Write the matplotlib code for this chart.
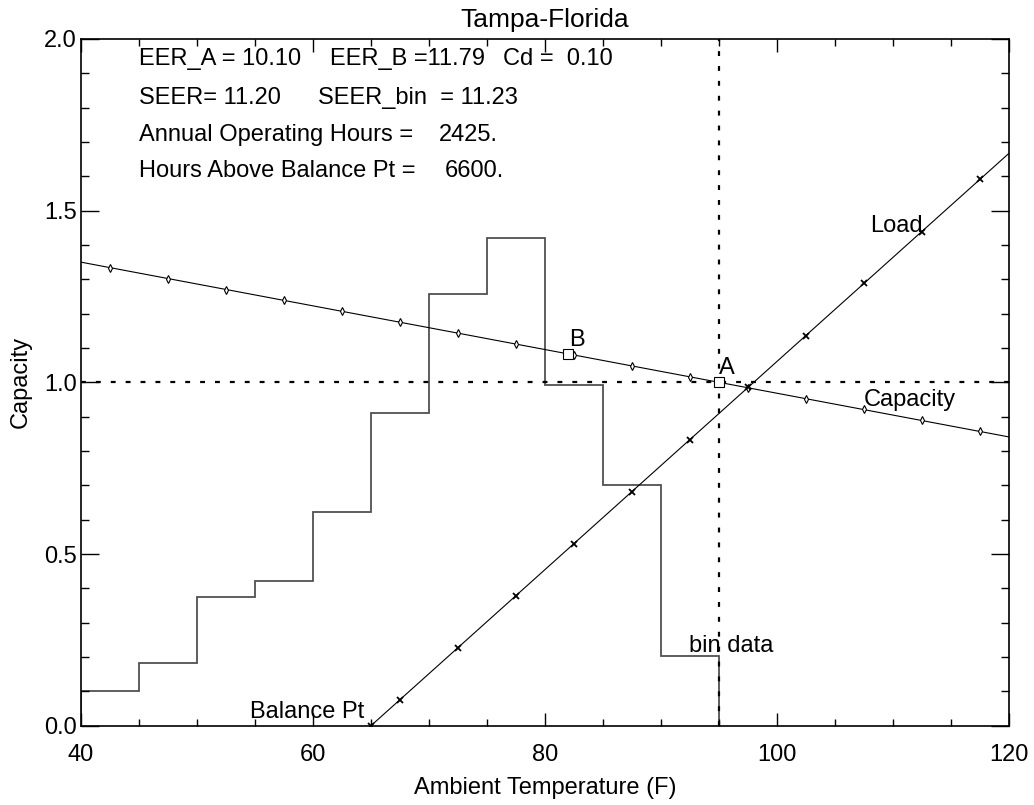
import matplotlib
matplotlib.use("Agg")
import matplotlib.pyplot as plt
from matplotlib.ticker import MultipleLocator

plt.rcParams['font.family'] = ['Liberation Sans', 'DejaVu Sans']

# ---- data ----
bin_edges = [40, 45, 50, 55, 60, 65, 70, 75, 80, 85, 90, 95]
bin_values = [0.10, 0.183, 0.375, 0.420, 0.621, 0.911, 1.256, 1.419, 0.991, 0.702, 0.203]

bin_centers = [42.5, 47.5, 52.5, 57.5, 62.5, 67.5, 72.5, 77.5,
               82.5, 87.5, 92.5, 97.5, 102.5, 107.5, 112.5, 117.5]
capacity_pts = [1.334, 1.302, 1.270, 1.239, 1.207, 1.175, 1.143, 1.111,
                1.080, 1.048, 1.016, 0.984, 0.952, 0.921, 0.889, 0.857]
capacity_line_t = [40, 120]
capacity_line_v = [1.350, 0.841]

load_t = [65, 67.5, 72.5, 77.5, 82.5, 87.5, 92.5, 97.5, 102.5, 107.5, 112.5, 117.5]
load_v = [0.0, 0.076, 0.227, 0.379, 0.530, 0.682, 0.833, 0.985, 1.136, 1.288, 1.439, 1.591]
load_line_t = [65, 120]
load_line_v = [0.0, 1.667]

point_A = (95, 1.0)
point_B = (82, 1.083)

info_lines = [
    [(45.0, "EER_A = 10.10"), (61.47, "EER_B =11.79"), (76.4, "Cd =  0.10")],
    [(45.0, "SEER= 11.20"), (60.43, "SEER_bin  = 11.23")],
    [(45.0, "Annual Operating Hours ="), (70.86, "2425.")],
    [(45.0, "Hours Above Balance Pt ="), (71.38, "6600.")],
]
info_y = [1.923, 1.812, 1.702, 1.597]

# ---- figure ----
fig = plt.figure(figsize=(10.34, 8.05), dpi=100)
ax = fig.add_axes([0.0783, 0.0985, 0.8975, 0.8531])

fs = 17
ax.stairs(bin_values, bin_edges, baseline=0, color='#505050', lw=1.3)

ax.plot(capacity_line_t, capacity_line_v, color='black', lw=0.8)
ax.plot(bin_centers, capacity_pts, ls='none', marker='d', ms=4,
        mfc='white', mec='black', mew=0.8)

ax.plot(load_line_t, load_line_v, color='black', lw=0.8)
ax.plot(load_t, load_v, ls='none', marker='x', ms=4.5, mec='black', mew=1.3)

ax.plot([40, 120], [1.0, 1.0], color='black', lw=1.6, ls=(0, (2.2, 4.5)))
ax.plot([95, 95], [0, 2.0], color='black', lw=1.6, ls=(0, (2.2, 4.5)))

ax.plot(*point_A, marker='s', ms=7.5, mfc='white', mec='black', mew=0.8, zorder=5)
ax.plot(*point_B, marker='s', ms=7.5, mfc='white', mec='black', mew=0.8, zorder=5)

ax.text(95.0, 1.025, "A", fontsize=fs)
ax.text(82.1, 1.107, "B", fontsize=fs)
ax.text(108.0, 1.437, "Load", fontsize=fs)
ax.text(107.5, 0.93, "Capacity", fontsize=fs)
ax.text(92.4, 0.216, "bin data", fontsize=fs)
ax.text(54.6, 0.022, "Balance Pt", fontsize=fs)

for yv, line in zip(info_y, info_lines):
    for xv, s in line:
        ax.text(xv, yv, s, fontsize=fs)

ax.set_xlim(40, 120)
ax.set_ylim(0, 2.0)
ax.xaxis.set_major_locator(MultipleLocator(20))
ax.xaxis.set_minor_locator(MultipleLocator(5))
ax.yaxis.set_major_locator(MultipleLocator(0.5))
ax.yaxis.set_minor_locator(MultipleLocator(0.1))
ax.yaxis.set_major_formatter(plt.FuncFormatter(lambda v, p: f"{v:.1f}"))

ax.tick_params(which='both', direction='in', top=True, right=True,
               labelsize=fs, width=1, color='black')
ax.tick_params(axis='x', which='major', length=9.5, pad=13)
ax.tick_params(axis='x', which='minor', length=4.8)
ax.tick_params(axis='y', which='major', length=13, pad=3)
ax.tick_params(axis='y', which='minor', length=6)
for sp in ax.spines.values():
    sp.set_linewidth(1.2)

ax.set_title("Tampa-Florida", fontsize=19, pad=8.5)
ax.set_xlabel("Ambient Temperature (F)", fontsize=fs, labelpad=8)
ax.set_ylabel("Capacity", fontsize=fs, labelpad=9)

fig.savefig("out.png", dpi=100)
